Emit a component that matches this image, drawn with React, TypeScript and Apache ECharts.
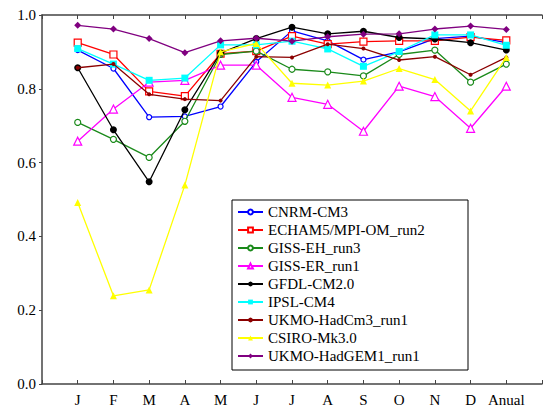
import React, { useEffect, useRef } from "react";
import * as echarts from "echarts";

// Month labels (plus the annual value) placed at positions 1..13 of the x scale
const months = ["J", "F", "M", "A", "M", "J", "J", "A", "S", "O", "N", "D", "Anual"];

const cnrmCm3 = [0.905, 0.855, 0.723, 0.725, 0.752, 0.873, 0.957, 0.930, 0.879, 0.900, 0.936, 0.943, 0.925];
const echam5 = [0.925, 0.893, 0.793, 0.780, 0.895, 0.902, 0.943, 0.921, 0.928, 0.930, 0.930, 0.940, 0.931];
const gissEh = [0.709, 0.663, 0.614, 0.712, 0.893, 0.902, 0.853, 0.846, 0.835, 0.893, 0.905, 0.818, 0.867];
const gissEr = [0.658, 0.745, 0.818, 0.823, 0.864, 0.864, 0.777, 0.758, 0.685, 0.807, 0.779, 0.693, 0.807];
const gfdlCm20 = [0.857, 0.689, 0.548, 0.743, 0.897, 0.936, 0.967, 0.949, 0.956, 0.939, 0.935, 0.925, 0.905];
const ipslCm4 = [0.909, 0.867, 0.823, 0.829, 0.919, 0.919, 0.929, 0.908, 0.861, 0.901, 0.946, 0.946, 0.918];
const hadCm3 = [0.857, 0.867, 0.785, 0.772, 0.768, 0.887, 0.885, 0.921, 0.909, 0.878, 0.887, 0.838, 0.885];
const csiroMk30 = [0.492, 0.239, 0.255, 0.539, 0.900, 0.923, 0.815, 0.810, 0.821, 0.855, 0.825, 0.740, 0.885];
const hadGem1 = [0.972, 0.962, 0.936, 0.898, 0.930, 0.937, 0.929, 0.941, 0.948, 0.949, 0.962, 0.970, 0.961];

const yTicks = [0, 0.2, 0.4, 0.6, 0.8, 1.0];

const FONT = "Liberation Serif";

type Spec = {
  name: string;
  values: number[];
  color: string;
  symbol: string;
  size: number;
  hollow: boolean;
};

const specs: Spec[] = [
  { name: "CNRM-CM3", values: cnrmCm3, color: "#0000ff", symbol: "circle", size: 5, hollow: true },
  { name: "ECHAM5/MPI-OM_run2", values: echam5, color: "#ff0000", symbol: "rect", size: 7, hollow: true },
  { name: "GISS-EH_run3", values: gissEh, color: "#1a8a1a", symbol: "circle", size: 6, hollow: true },
  { name: "GISS-ER_run1", values: gissEr, color: "#ff00ff", symbol: "triangle", size: 8, hollow: true },
  { name: "GFDL-CM2.0", values: gfdlCm20, color: "#000000", symbol: "circle", size: 7, hollow: false },
  { name: "IPSL-CM4", values: ipslCm4, color: "#00ffff", symbol: "rect", size: 7, hollow: false },
  { name: "UKMO-HadCm3_run1", values: hadCm3, color: "#8b0000", symbol: "circle", size: 4, hollow: false },
  { name: "CSIRO-Mk3.0", values: csiroMk30, color: "#ffff00", symbol: "triangle", size: 7, hollow: false },
  { name: "UKMO-HadGEM1_run1", values: hadGem1, color: "#800080", symbol: "diamond", size: 7, hollow: false },
];

export default function App() {
  const ref = useRef<HTMLDivElement>(null);

  useEffect(() => {
    if (!ref.current) return;
    const chart = echarts.init(ref.current, undefined, { renderer: "svg" });

    const axisLine = { show: true, lineStyle: { color: "#444", width: 1.5 } };

    chart.setOption({
      animation: false,
      backgroundColor: "#ffffff",
      textStyle: { fontFamily: FONT },
      grid: { left: 42, top: 15, right: 0, bottom: 23, containLabel: false },
      legend: {
        left: 237,
        top: 203,
        orient: "vertical",
        padding: 0,
        itemWidth: 25,
        itemHeight: 6,
        itemGap: 0,
        itemTextGap: 6,
        z: 10,
        textStyle: { fontFamily: FONT, fontSize: 15, color: "#000", lineHeight: 18 },
        data: specs.map((s) => s.name),
      },
      graphic: [
        {
          // legend frame, drawn above the lines and below the legend entries
          type: "rect",
          shape: { x: 232, y: 200, width: 236, height: 170 },
          style: { fill: "#ffffff", stroke: "#000", lineWidth: 1 },
          z: 5,
        },
      ],
      xAxis: [
        {
          type: "value",
          min: 0,
          max: 14,
          interval: 1,
          position: "bottom",
          axisLine,
          axisTick: { show: true, inside: true, length: 4, lineStyle: { color: "#444" } },
          splitLine: { show: false },
          axisLabel: {
            margin: 8,
            fontFamily: FONT,
            fontSize: 15,
            color: "#000",
            formatter: (v: number) => (v >= 1 && v <= months.length ? months[v - 1] : ""),
          },
        },
        {
          type: "value",
          min: 0,
          max: 14,
          interval: 1,
          position: "top",
          axisLine,
          axisTick: { show: true, inside: true, length: 4, lineStyle: { color: "#444" } },
          splitLine: { show: false },
          axisLabel: { show: false },
        },
      ],
      yAxis: {
        type: "value",
        min: 0,
        max: 1,
        interval: 0.2,
        axisLine,
        axisTick: { show: true, length: 3, lineStyle: { color: "#444" } },
        splitLine: { show: false },
        axisLabel: {
          margin: 6,
          fontFamily: FONT,
          fontSize: 15,
          color: "#000",
          formatter: (v: number) => {
            const t = yTicks.find((y) => Math.abs(y - v) < 1e-6);
            return (t ?? v).toFixed(1);
          },
        },
      },
      series: specs.map((s, k) => ({
        name: s.name,
        type: "line",
        xAxisIndex: 0,
        data: s.values.map((v, i) => [i + 1, v]),
        symbol: s.symbol,
        symbolSize: s.size,
        showSymbol: true,
        lineStyle: { color: s.color, width: 1.3 },
        itemStyle: s.hollow
          ? { color: "#ffffff", borderColor: s.color, borderWidth: 1.2 }
          : { color: s.color, borderColor: s.color, borderWidth: 0 },
        z: 2 + k * 0.01,
        emphasis: { disabled: true },
      })),
    });

    return () => chart.dispose();
  }, []);

  return (
    <div
      ref={ref}
      style={{ position: "fixed", left: 0, top: 0, width: 545, height: 407 }}
    />
  );
}
